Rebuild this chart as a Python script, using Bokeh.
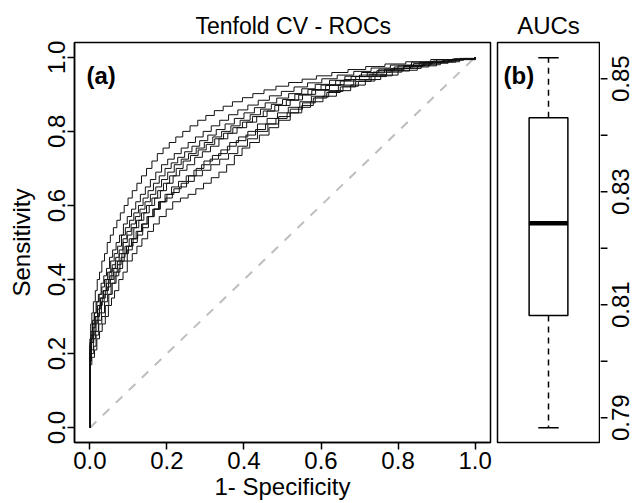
import math
import numpy as np
from bokeh.plotting import figure
from bokeh.models import Range1d, FixedTicker, Label, PrintfTickFormatter
from bokeh.core.properties import value
from bokeh.layouts import row
from bokeh.embed import file_html
from bokeh.resources import INLINE

FONT = "Liberation Sans"

# ---------------- data: (1-specificity, sensitivity) knots ----------------
roc_1 = [(0, 0), (0, .17), (.005, .19), (.012, .21), (.018, .24), (.025, .26), (.032, .28), (.04, .30), (.048, .33), (.056, .35), (.064, .37), (.075, .40), (.086, .42), (.097, .45), (.11, .47), (.122, .49), (.135, .51), (.15, .53), (.165, .55), (.18, .57), (.198, .59), (.215, .61), (.235, .62), (.255, .63), (.275, .645), (.295, .66), (.315, .675), (.335, .69), (.355, .71), (.375, .735), (.395, .755), (.415, .77), (.44, .79), (.465, .81), (.49, .83), (.52, .85), (.55, .87), (.58, .89), (.615, .905), (.65, .92), (.69, .935), (.73, .948), (.77, .96), (.81, .97), (.86, .98), (.91, .988), (.96, .995), (1, 1)]
roc_2 = [(0, 0), (0, .19), (.004, .21), (.009, .24), (.015, .26), (.022, .29), (.03, .31), (.038, .34), (.046, .36), (.055, .39), (.065, .41), (.075, .43), (.085, .45), (.097, .48), (.11, .50), (.123, .52), (.137, .54), (.152, .57), (.167, .59), (.183, .61), (.2, .63), (.218, .645), (.237, .66), (.256, .68), (.276, .70), (.296, .72), (.318, .735), (.34, .75), (.363, .77), (.386, .785), (.41, .80), (.435, .82), (.46, .835), (.487, .85), (.515, .865), (.545, .88), (.575, .895), (.61, .91), (.645, .925), (.685, .94), (.725, .953), (.77, .965), (.815, .975), (.865, .985), (.915, .992), (.96, .997), (1, 1)]
roc_3 = [(0, 0), (0, .22), (.003, .25), (.008, .28), (.013, .30), (.02, .33), (.027, .35), (.035, .37), (.043, .39), (.052, .41), (.062, .43), (.072, .45), (.083, .47), (.095, .49), (.108, .51), (.12, .53), (.134, .55), (.148, .57), (.163, .59), (.178, .61), (.195, .63), (.212, .65), (.23, .665), (.25, .68), (.27, .695), (.29, .71), (.312, .725), (.334, .74), (.357, .76), (.38, .775), (.405, .79), (.43, .805), (.456, .82), (.483, .835), (.512, .85), (.542, .865), (.573, .88), (.605, .895), (.64, .91), (.677, .925), (.715, .94), (.755, .952), (.8, .965), (.85, .977), (.9, .987), (.95, .995), (1, 1)]
roc_4 = [(0, 0), (0, .2), (.004, .23), (.01, .26), (.016, .29), (.023, .31), (.03, .34), (.037, .36), (.045, .38), (.053, .40), (.062, .42), (.071, .44), (.081, .46), (.091, .49), (.102, .51), (.114, .54), (.127, .56), (.14, .58), (.154, .60), (.168, .62), (.183, .64), (.199, .66), (.216, .68), (.233, .695), (.252, .71), (.272, .73), (.292, .745), (.313, .76), (.335, .78), (.358, .795), (.382, .81), (.407, .825), (.433, .84), (.46, .855), (.49, .87), (.52, .885), (.552, .9), (.586, .913), (.622, .926), (.66, .94), (.7, .952), (.745, .964), (.79, .974), (.84, .983), (.89, .99), (.945, .996), (1, 1)]
roc_5 = [(0, 0), (0, .21), (.003, .24), (.008, .27), (.014, .30), (.02, .32), (.027, .35), (.034, .37), (.042, .40), (.05, .42), (.058, .44), (.067, .46), (.076, .48), (.086, .51), (.096, .53), (.107, .55), (.118, .57), (.13, .59), (.143, .61), (.157, .63), (.171, .65), (.186, .67), (.202, .69), (.219, .71), (.237, .725), (.256, .74), (.276, .755), (.297, .77), (.319, .785), (.342, .80), (.366, .815), (.39, .83), (.416, .845), (.443, .86), (.471, .873), (.5, .886), (.532, .9), (.566, .913), (.6, .925), (.638, .937), (.678, .948), (.72, .958), (.765, .968), (.815, .978), (.87, .987), (.93, .994), (1, 1)]
roc_6 = [(0, 0), (0, .23), (.003, .26), (.007, .29), (.012, .31), (.018, .34), (.024, .36), (.031, .38), (.038, .40), (.046, .42), (.054, .45), (.063, .47), (.072, .49), (.082, .52), (.092, .54), (.103, .56), (.114, .58), (.126, .60), (.138, .62), (.151, .64), (.165, .66), (.18, .68), (.195, .70), (.211, .715), (.228, .73), (.246, .745), (.265, .76), (.285, .775), (.306, .79), (.328, .805), (.351, .82), (.375, .835), (.4, .85), (.427, .864), (.455, .877), (.485, .89), (.516, .902), (.55, .915), (.585, .927), (.622, .938), (.662, .949), (.705, .959), (.75, .968), (.8, .977), (.855, .986), (.92, .994), (1, 1)]
roc_7 = [(0, 0), (0, .2), (.002, .24), (.006, .28), (.011, .31), (.016, .34), (.022, .36), (.029, .39), (.036, .41), (.043, .43), (.051, .46), (.059, .48), (.068, .50), (.077, .52), (.087, .55), (.097, .57), (.108, .59), (.119, .61), (.131, .63), (.144, .65), (.157, .67), (.171, .69), (.186, .71), (.202, .725), (.219, .74), (.237, .755), (.255, .77), (.274, .785), (.294, .80), (.315, .815), (.337, .83), (.36, .845), (.384, .858), (.41, .871), (.437, .884), (.466, .896), (.497, .908), (.53, .92), (.565, .931), (.602, .942), (.642, .952), (.685, .962), (.73, .971), (.78, .979), (.835, .987), (.9, .994), (1, 1)]
roc_8 = [(0, 0), (0, .24), (.002, .28), (.005, .31), (.009, .34), (.014, .37), (.019, .40), (.025, .42), (.031, .45), (.038, .47), (.045, .50), (.053, .52), (.061, .54), (.07, .56), (.079, .58), (.089, .60), (.099, .62), (.11, .64), (.122, .66), (.134, .68), (.147, .70), (.161, .72), (.175, .74), (.19, .755), (.206, .77), (.223, .785), (.241, .80), (.26, .815), (.28, .83), (.301, .843), (.323, .856), (.346, .868), (.37, .88), (.396, .891), (.423, .902), (.452, .912), (.483, .922), (.516, .932), (.551, .941), (.588, .95), (.628, .959), (.67, .967), (.716, .975), (.766, .982), (.82, .988), (.885, .994), (1, 1)]
roc_9 = [(0, 0), (0, .18), (.004, .2), (.01, .22), (.016, .25), (.023, .28), (.031, .30), (.04, .33), (.049, .36), (.058, .39), (.068, .42), (.078, .45), (.089, .47), (.1, .49), (.112, .51), (.124, .53), (.137, .55), (.151, .57), (.166, .59), (.181, .61), (.197, .62), (.214, .635), (.232, .65), (.251, .665), (.271, .68), (.292, .695), (.314, .71), (.337, .725), (.36, .74), (.384, .76), (.409, .78), (.435, .80), (.462, .82), (.49, .84), (.52, .86), (.552, .877), (.585, .893), (.62, .908), (.657, .922), (.697, .936), (.74, .95), (.785, .963), (.83, .974), (.88, .984), (.93, .992), (.97, .997), (1, 1)]
roc_10 = [(0, 0), (0, .2), (.003, .23), (.008, .25), (.013, .28), (.019, .30), (.025, .33), (.032, .35), (.04, .37), (.048, .40), (.057, .43), (.066, .45), (.076, .47), (.086, .50), (.097, .52), (.109, .54), (.121, .56), (.134, .58), (.147, .60), (.161, .62), (.176, .64), (.191, .66), (.207, .68), (.224, .70), (.242, .72), (.261, .735), (.281, .75), (.302, .765), (.324, .78), (.347, .795), (.371, .81), (.396, .825), (.422, .84), (.45, .855), (.48, .87), (.51, .884), (.542, .898), (.576, .911), (.612, .924), (.65, .936), (.69, .948), (.735, .96), (.782, .97), (.832, .979), (.885, .988), (.94, .995), (1, 1)]

roc_curves = [roc_1, roc_2, roc_3, roc_4, roc_5, roc_6, roc_7, roc_8, roc_9, roc_10]

auc_values = [0.7882, 0.8010, 0.8081, 0.8150, 0.8220, 0.8268, 0.8350, 0.8431, 0.8480, 0.8537]

chance_line = [0.0, 1.0]
roc_ticks = [0.0, 0.2, 0.4, 0.6, 0.8, 1.0]
auc_ticks = [0.79, 0.80, 0.81, 0.82, 0.83, 0.84, 0.85]
auc_label_ticks = [0.79, 0.81, 0.83, 0.85]
auc_tick_labels = ["0.79", "0.81", "0.83", "0.85"]

title_left = "Tenfold CV - ROCs"
title_right = "AUCs"
x_title = "1- Specificity"
y_title = "Sensitivity"
panel_a = "(a)"
panel_b = "(b)"


def fivenum(v):
    x = np.sort(np.asarray(v, dtype=float))
    n = len(x)
    n4 = math.floor((n + 3) / 2) / 2
    d = [1, n4, (n + 1) / 2, n + 1 - n4, n]
    return [0.5 * (x[math.floor(di) - 1] + x[math.ceil(di) - 1]) for di in d]


lo, q1, med, q3, hi = fivenum(auc_values)


def style_axis(ax, size="24px"):
    ax.major_tick_out = 7
    ax.major_tick_in = 0
    ax.minor_tick_line_color = None
    ax.major_tick_line_width = 1.5
    ax.major_tick_line_color = "black"
    ax.axis_line_color = "black"
    ax.axis_line_width = 1.5
    ax.major_label_text_font = FONT
    ax.major_label_text_font_size = size
    ax.major_label_text_color = "black"
    ax.axis_label_text_font = FONT
    ax.axis_label_text_font_size = "24px"
    ax.axis_label_text_font_style = "normal"
    ax.axis_label_text_color = "black"


def style_title(p, size, align, offset):
    p.title.align = align
    p.title.text_font = FONT
    p.title.text_font_size = size
    p.title.text_font_style = "normal"
    p.title.text_color = "black"
    p.title.standoff = 7
    p.title.offset = offset


def plain(p):
    p.grid.visible = False
    p.background_fill_color = "white"
    p.border_fill_color = "white"


# ---------------- left panel: ROC curves ----------------
p1 = figure(frame_width=416, frame_height=400, title=title_left,
            x_range=Range1d(-0.04, 1.04), y_range=Range1d(-0.04, 1.04),
            output_backend="svg", toolbar_location=None,
            min_border_left=74, min_border_right=3,
            min_border_top=42, min_border_bottom=61)
plain(p1)
p1.outline_line_color = "black"
p1.outline_line_width = 1.5
style_title(p1, "23px", "left", 121)

for ax in (p1.xaxis[0], p1.yaxis[0]):
    ax.ticker = FixedTicker(ticks=roc_ticks)
    ax.formatter = PrintfTickFormatter(format="%.1f")
    style_axis(ax)
p1.xaxis.axis_label = x_title
p1.yaxis.axis_label = y_title
p1.xaxis.major_label_standoff = 2
p1.xaxis.axis_label_standoff = 1
p1.yaxis.major_label_standoff = 2
p1.yaxis.axis_label_standoff = 11
p1.yaxis.major_label_orientation = "vertical"

p1.line(chance_line, chance_line, line_color="#BEBEBE", line_width=2, line_dash="9 9")
for curve in roc_curves:
    fx = [pt[0] for pt in curve]
    ty = [pt[1] for pt in curve]
    p1.step(fx, ty, mode="after", line_color="#111111", line_width=1)


def panel_tag(p, x, text):
    p.add_layout(Label(x=x, y=367, x_units="screen", y_units="screen", text=text,
                       text_font=FONT, text_font_size="24px", text_font_style="bold",
                       text_align="left", text_baseline="alphabetic",
                       text_color="black"))


panel_tag(p1, 12, panel_a)

# ---------------- right panel: AUC boxplot ----------------
auc_range = Range1d(0.7856, 0.8564)
p2 = figure(frame_width=102, frame_height=400, title=title_right,
            x_range=Range1d(0, 1), y_range=auc_range,
            x_axis_type=None, y_axis_type=None,
            output_backend="svg", toolbar_location=None,
            min_border_left=4, min_border_right=1,
            min_border_top=42, min_border_bottom=61)
plain(p2)
p2.outline_line_color = "black"
p2.outline_line_width = 1.5
style_title(p2, "24px", "center", 0)

cx, half_box, half_cap = 0.5, 0.19, 0.1
p2.segment(x0=[cx, cx], y0=[q3, q1], x1=[cx, cx], y1=[hi, lo],
           line_color="black", line_width=1.5, line_dash="6 5")
p2.segment(x0=[cx - half_cap] * 2, y0=[hi, lo], x1=[cx + half_cap] * 2, y1=[hi, lo],
           line_color="black", line_width=1.5)
p2.quad(left=[cx - half_box], right=[cx + half_box], bottom=[q1], top=[q3],
        fill_color="white", line_color="black", line_width=1.5)
p2.segment(x0=[cx - half_box], y0=[med], x1=[cx + half_box], y1=[med],
           line_color="black", line_width=4.5)

panel_tag(p2, 6, panel_b)

# ---------------- AUC axis strip (ticks + labels on the shared AUC scale) ----------------
p3 = figure(frame_width=33, frame_height=400,
            x_range=Range1d(0, 33), y_range=auc_range,
            x_axis_type=None, y_axis_type=None,
            output_backend="svg", toolbar_location=None,
            min_border_left=0, min_border_right=0,
            min_border_top=42, min_border_bottom=61)
plain(p3)
p3.outline_line_color = None
tick_len = 7
p3.segment(x0=[0] * len(auc_ticks), y0=auc_ticks, x1=[tick_len] * len(auc_ticks), y1=auc_ticks,
           line_color="black", line_width=1.5)
p3.text(x=[19.5] * len(auc_label_ticks), y=auc_label_ticks, text=auc_tick_labels,
        angle=math.pi / 2, text_align="center", text_baseline="middle",
        text_font=value(FONT), text_font_size=value("24px"), text_color="black")

layout = row(p1, p2, p3)
open("out.html", "w").write(file_html(layout, INLINE))
